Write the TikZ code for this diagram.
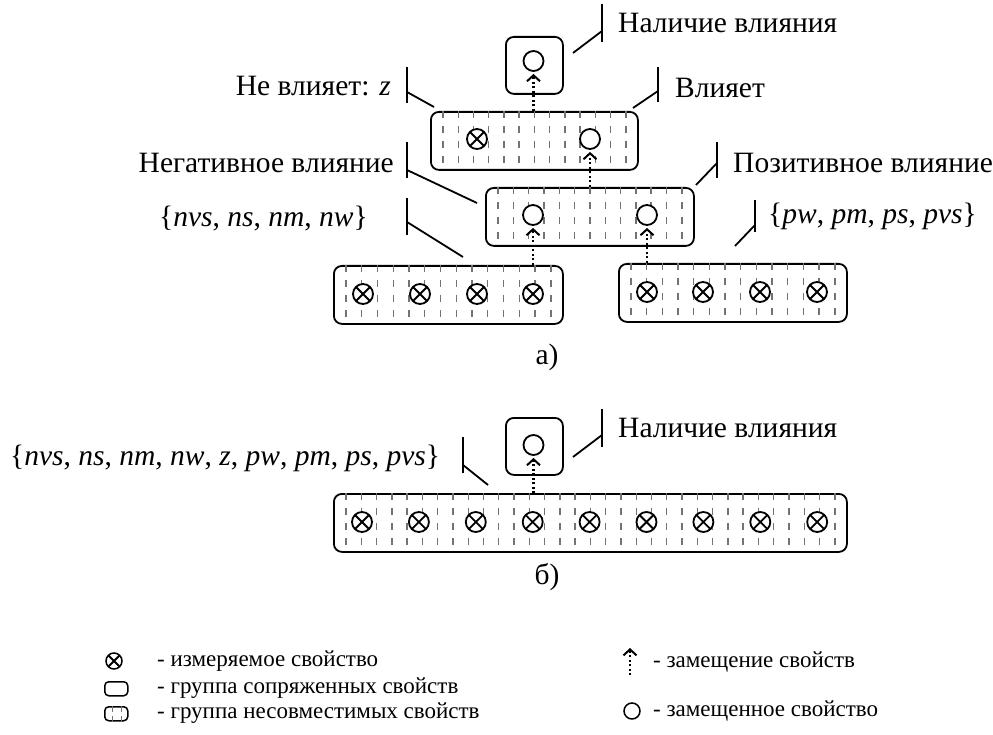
\documentclass[tikz,border=0pt]{standalone}
\usepackage{fontspec}
\setmainfont{Liberation Serif}
\usetikzlibrary{arrows.meta,calc}
\tikzset{
  grp/.style={draw, rounded corners=8pt, line width=1.8pt, inner sep=0pt, anchor=north west},
  hatch/.style={draw=black!55, line width=1.4pt, dash pattern=on 7pt off 8pt},
  meas/.style={circle, draw, fill=white, line width=1.8pt, minimum size=20pt, inner sep=0pt,
    path picture={\draw[line width=1.8pt] (path picture bounding box.north east) -- (path picture bounding box.south west)
      (path picture bounding box.north west) -- (path picture bounding box.south east);}},
  repl/.style={circle, draw, fill=white, line width=1.8pt, minimum size=20pt, inner sep=0pt},
  subst/.style={line width=2.2pt, dash pattern=on 2pt off 2.5pt, shorten >=2pt,
    -{Straight Barb[length=6pt,width=13pt,line width=2pt]}},
  lead/.style={line width=1.8pt},
  lab/.style={font=\fontsize{29.5}{33}\selectfont, inner sep=0pt},
  leg/.style={font=\fontsize{23}{27}\selectfont, inner sep=0pt, anchor=west},
}
\newcommand\hatchlines[2]{%
  \path let \p1=(#1.north west), \p2=(#1.south east), \n1={(\x2-\x1-26pt)/(#2-1)} in
    \foreach \k in {0,...,\numexpr#2-1\relax}{
      \pgfextra{\draw[hatch] (\x1+13pt+\k*\n1*1pt,\y1) -- (\x1+13pt+\k*\n1*1pt,\y2);}
    };
}
\begin{document}
\begin{tikzpicture}[x=1pt,y=-1pt]
\useasboundingbox (0,0) rectangle (993,735);

% ---------- a) ----------
\node[grp, minimum width=57pt, minimum height=57pt] (T) at (505,36) {};
\node[grp, minimum width=207pt, minimum height=58pt] (S) at (430,111) {};
\node[grp, minimum width=208pt, minimum height=58pt] (M) at (485,187) {};
\node[grp, minimum width=229pt, minimum height=58pt] (L) at (333,265) {};
\node[grp, minimum width=228pt, minimum height=58pt] (R) at (618,263) {};
\hatchlines{S}{13}
\hatchlines{M}{13}
\hatchlines{L}{14}
\hatchlines{R}{14}

\node[repl] (t1) at (533.5,61) {};
\node[meas] (s1) at (477,139) {};
\node[repl] (s2) at (590,139) {};
\node[repl] (m1) at (533,215) {};
\node[repl] (m2) at (647,215) {};
\foreach \i/\x in {1/363,2/420,3/477,4/533}{\node[meas] (l\i) at (\x,294) {};}
\foreach \i/\x in {1/647,2/703,3/760,4/817}{\node[meas] (r\i) at (\x,292) {};}

\draw[subst] (t1 |- S.north) -- (t1);
\draw[subst] (s2 |- M.north) -- (s2);
\draw[subst] (l4 |- L.north) -- (m1);
\draw[subst] (r1 |- R.north) -- (m2);

% labels a)
\node[lab, anchor=west] (nal) at (618,23) {Наличие влияния};
\draw[lead] (602,4) -- (602,42);
\draw[lead] (573,53) -- (602,31);

\node[lab, anchor=east] (nev) at (391,86) {Не влияет: \textit{z}};
\draw[lead] (407,67) -- (407,103);
\draw[lead] (407,92) -- (434,107);

\node[lab, anchor=west] (vl) at (675,88) {Влияет};
\draw[lead] (658,67) -- (658,102);
\draw[lead] (633,108) -- (658,91);

\node[lab, anchor=east] (neg) at (394,163) {Негативное влияние};
\draw[lead] (407,142) -- (407,178);
\draw[lead] (407,170) -- (477,203);

\node[lab, anchor=west] (poz) at (733,163) {Позитивное влияние};
\draw[lead] (717,142) -- (717,178);
\draw[lead] (696,185) -- (717,163);

\node[lab, anchor=east] (nset) at (368,219) {\{\textit{nvs}, \textit{ns}, \textit{nm}, \textit{nw}\}};
\draw[lead] (407,198) -- (407,235);
\draw[lead] (407,222) -- (463,257);

\node[lab, anchor=west] (pset) at (768,216) {\{\textit{pw}, \textit{pm}, \textit{ps}, \textit{pvs}\}};
\draw[lead] (755,200) -- (755,232);
\draw[lead] (735,246) -- (755,225);

\node[lab] (capa) at (547,357) {а)};

% ---------- b) ----------
\node[grp, minimum width=57pt, minimum height=57pt] (Tb) at (505,417) {};
\node[grp, minimum width=513pt, minimum height=58pt] (B) at (333,493) {};
\hatchlines{B}{33}
\node[repl] (tb1) at (533.5,445) {};
\foreach \i in {1,...,9}{\node[meas] (b\i) at (362+\i*56.9-56.9,522) {};}
\draw[subst] (tb1 |- B.north) -- (tb1);

\node[lab, anchor=west] (nalb) at (618,428) {Наличие влияния};
\draw[lead] (602,409) -- (602,447);
\draw[lead] (573,457) -- (602,435);

\node[lab, anchor=west] (allset) at (10,458) {\{\textit{nvs}, \textit{ns}, \textit{nm}, \textit{nw}, \textit{z}, \textit{pw}, \textit{pm}, \textit{ps}, \textit{pvs}\}};
\draw[lead] (463,437) -- (463,473);
\draw[lead] (463,465) -- (488,485);

\node[lab] (capb) at (547,577) {б)};

% ---------- legend ----------
\node[meas, minimum size=16pt, line width=1.5pt] (lg1) at (114,661) {};
\node[leg] (lt1) at (157,661) {- измеряемое свойство};
\node[grp, minimum width=23pt, minimum height=14pt, line width=1.5pt, rounded corners=4pt] (lg2) at (104,681) {};
\node[leg] (lt2) at (157,688) {- группа сопряженных свойств};
\node[grp, minimum width=23pt, minimum height=14pt, line width=1.5pt, rounded corners=4pt] (lg3) at (104,706) {};
\draw[hatch, line width=1.2pt, dash pattern=on 6pt off 4pt] ($(lg3.north)+(-4,0)$) -- ($(lg3.south)+(-4,0)$);
\draw[hatch, line width=1.2pt, dash pattern=on 6pt off 4pt] ($(lg3.north)+(5,0)$) -- ($(lg3.south)+(5,0)$);
\node[leg] (lt3) at (157,713) {- группа несовместимых свойств};

\coordinate (lg4a) at (630,675);
\coordinate (lg4b) at (630,648);
\draw[subst, shorten >=0pt] (lg4a) -- (lg4b);
\node[leg] (lt4) at (653,662) {- замещение свойств};
\node[repl, minimum size=16pt, line width=1.5pt] (lg5) at (632,711) {};
\node[leg] (lt5) at (653,711) {- замещенное свойство};
\end{tikzpicture}
\end{document}
